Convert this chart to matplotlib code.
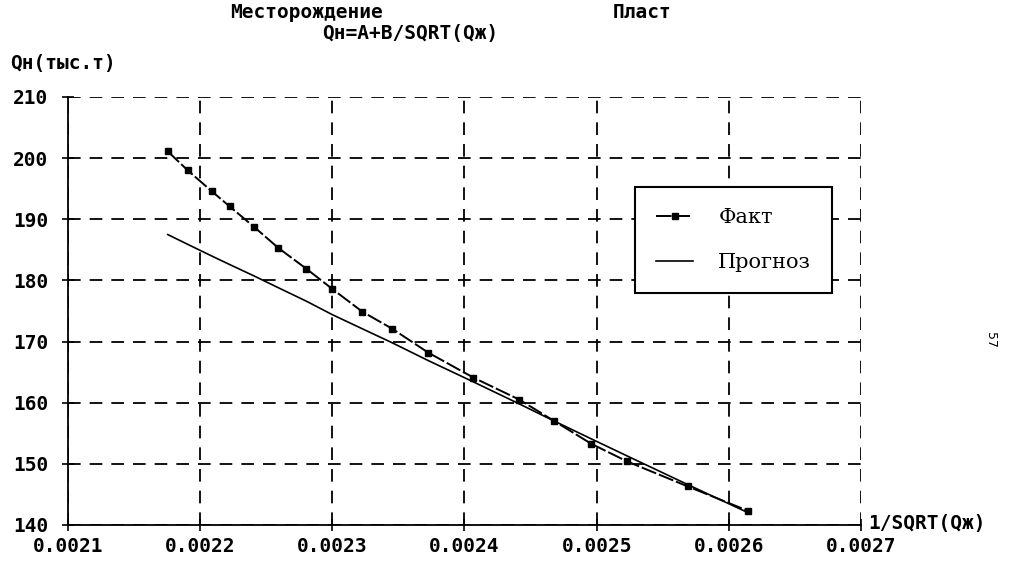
import numpy as np
import matplotlib.pyplot as plt

# data
x_fact = [0.0021755, 0.0021906, 0.0022087, 0.0022223, 0.0022411, 0.0022592,
          0.0022804, 0.0023000, 0.0023226, 0.0023453, 0.0023725, 0.0024068,
          0.0024415, 0.0024679, 0.0024958, 0.0025230, 0.0025690, 0.0026147]
q_fact = [201.1, 198.0, 194.6, 192.1, 188.7, 185.3, 181.9, 178.6, 174.9,
          172.1, 168.2, 164.1, 160.5, 157.0, 153.3, 150.4, 146.3, 142.3]
q_prog = [187.5, 185.9, 184.0, 182.6, 180.7, 178.8, 176.6, 174.4, 172.1,
          169.8, 166.9, 163.4, 159.8, 157.0, 154.1, 151.3, 146.6, 142.0]

x_ticks = [0.0021, 0.0022, 0.0023, 0.0024, 0.0025, 0.0026, 0.0027]
y_ticks = [140, 150, 160, 170, 180, 190, 200, 210]

font = 'DejaVu Sans Mono'

fig = plt.figure(figsize=(10.19, 5.62), dpi=100)
ax = fig.add_axes([68/1019, 1-525/562, (861-68)/1019, (525-97)/562])

ax.plot(x_fact, q_fact, color='black', lw=1.4, ls=(0, (8, 1.5)),
        marker='s', ms=4.5, mfc='black', mec='black', label='Факт')
ax.plot(x_fact, q_prog, color='black', lw=1.2, label='Прогноз')

ax.set_xlim(0.0021, 0.0027)
ax.set_ylim(140, 210)
ax.set_xticks(x_ticks)
ax.set_yticks(y_ticks)
ax.set_xticklabels(['%.4f' % v for v in x_ticks], family=font, fontweight='bold', fontsize=14)
ax.set_yticklabels([str(v) for v in y_ticks], family=font, fontweight='bold', fontsize=14)
ax.tick_params(direction='inout', length=8, width=1.2, colors='black')
ax.tick_params(axis='y', pad=10)
ax.tick_params(axis='x', pad=5)
ax.grid(True, color='black', ls=(0, (7, 5)), lw=1.3)

for s in ['top', 'right']:
    ax.spines[s].set_visible(False)
for s in ['left', 'bottom']:
    ax.spines[s].set_linewidth(1.3)

leg = ax.legend(loc='upper left', bbox_to_anchor=((635-68)/793, 1-(187-97)/428),
                borderaxespad=0, frameon=True, fancybox=False, edgecolor='black',
                framealpha=1, borderpad=1.0, labelspacing=1.25, handlelength=1.8,
                handletextpad=1.2, prop={'family': 'DejaVu Serif', 'size': 15})
leg.get_frame().set_linewidth(1.5)
leg.set_zorder(5)

fig.text(230/1019, 1-12/562, 'Месторождение', family=font, fontweight='bold',
         fontsize=14, va='center', ha='left')
fig.text(613/1019, 1-12/562, 'Пласт', family=font, fontweight='bold',
         fontsize=14, va='center', ha='left')
fig.text(322/1019, 1-33/562, 'Qн=A+B/SQRT(Qж)', family=font, fontweight='bold',
         fontsize=14, va='center', ha='left')
fig.text(10/1019, 1-63/562, 'Qн(тыс.т)', family=font, fontweight='bold',
         fontsize=14, va='center', ha='left')
fig.text(868/1019, 1-523/562, '1/SQRT(Qж)', family=font, fontweight='bold',
         fontsize=14, va='center', ha='left')
fig.text(990/1019, 1-340/562, '57', fontsize=9, rotation=-90,
         va='center', ha='center')

fig.savefig('out.png', dpi=100)
